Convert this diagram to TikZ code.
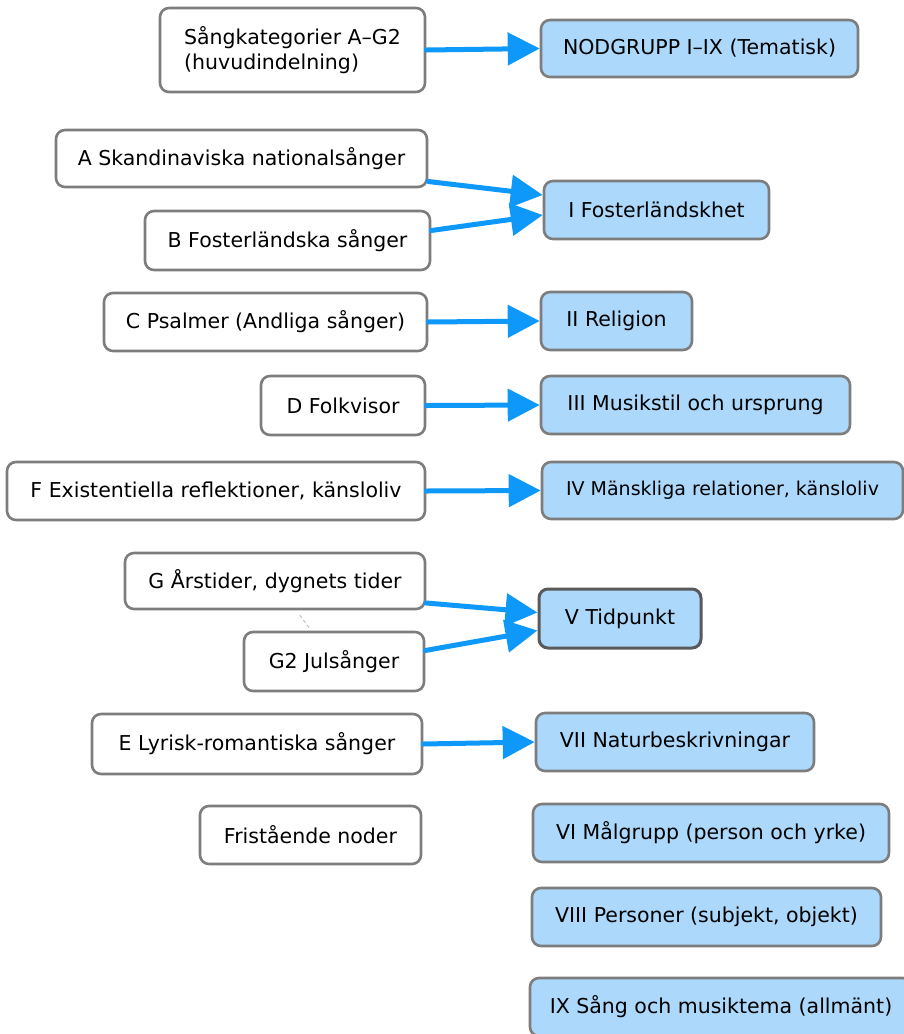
\documentclass[tikz,border=0pt]{standalone}
\usepackage{fontspec}
\setmainfont{DejaVu Sans}
\usepackage{tikz}
\usetikzlibrary{arrows.meta}

\definecolor{linkblue}{RGB}{14,153,250}
\definecolor{themefill}{RGB}{171,216,251}
\definecolor{boxgray}{RGB}{125,125,125}

\tikzset{
  catbox/.style={draw=boxgray,line width=2.6pt,rounded corners=9pt,fill=white,
    inner sep=0pt,font=\fontsize{20.5}{25}\selectfont},
  themebox/.style={catbox,fill=themefill},
  link/.style={->,draw=linkblue,line width=5pt},
  faint/.style={draw=gray!60,line width=0.8pt,dash pattern=on 3pt off 3pt}
}

\begin{document}
\begin{tikzpicture}[line cap=round,line join=round,>={Triangle[length=32pt,width=32pt]},x=1pt,y=-1pt]
\useasboundingbox (0,0) rectangle (904,1034);
\clip (0,0) rectangle (904,1034);
% head row
\node[catbox,minimum width=265pt,minimum height=84pt,align=left] (kat) at (292.5,50) {Sångkategorier A–G2\\(huvudindelning)};
\node[themebox,minimum width=317pt,minimum height=57pt] (nod) at (699.5,48.5) {NODGRUPP I–IX (Tematisk)};
% categories
\node[catbox,minimum width=371pt,minimum height=57pt] (A) at (241.5,158.5) {A Skandinaviska nationalsånger};
\node[catbox,minimum width=285pt,minimum height=59pt] (B) at (287.5,240.5) {B Fosterländska sånger};
\node[catbox,minimum width=323pt,minimum height=58pt] (C) at (265.5,322) {C Psalmer (Andliga sånger)};
\node[catbox,minimum width=164pt,minimum height=59pt] (D) at (343,405.5) {D Folkvisor};
\node[catbox,minimum width=418pt,minimum height=58pt] (F) at (216,491) {F Existentiella reflektioner, känsloliv};
\node[catbox,minimum width=300pt,minimum height=56pt] (G) at (275,581) {G Årstider, dygnets tider};
\node[catbox,minimum width=180pt,minimum height=59pt] (G2) at (334,661.5) {G2 Julsånger};
\node[catbox,minimum width=330pt,minimum height=60pt] (E) at (257,744) {E Lyrisk-romantiska sånger};
\node[catbox,minimum width=221pt,minimum height=58pt] (fri) at (310.5,835) {Fristående noder};
% themes
\node[themebox,minimum width=225pt,minimum height=58pt] (I) at (656.5,210) {I Fosterländskhet};
\node[themebox,minimum width=151pt,minimum height=58pt] (II) at (616.5,321) {II Religion};
\node[themebox,minimum width=309pt,minimum height=58pt] (III) at (695.5,405) {III Musikstil och ursprung};
\node[themebox,minimum width=361pt,minimum height=57pt,font=\fontsize{19}{23}\selectfont] (IV) at (722.5,490.5) {IV Mänskliga relationer, känsloliv};
\node[themebox,draw=black!65,line width=3pt,minimum width=162pt,minimum height=59pt] (V) at (620,618.5) {V Tidpunkt};
\node[themebox,minimum width=278pt,minimum height=58pt] (VII) at (675,742) {VII Naturbeskrivningar};
\node[themebox,minimum width=356pt,minimum height=58pt] (VI) at (711,833) {VI Målgrupp (person och yrke)};
\node[themebox,minimum width=349pt,minimum height=58pt] (VIII) at (706.5,917) {VIII Personer (subjekt, objekt)};
\node[themebox,minimum width=382pt,minimum height=58pt] (IX) at (721,1007) {IX Sång och musiktema (allmänt)};
% links
\draw[link] (kat.east) -- (nod.west);
\draw[link] ([yshift=-23pt]A.east) -- ([yshift=15pt]I.west);
\draw[link] ([yshift=10pt]B.east) -- ([yshift=-5pt]I.west);
\draw[link] (C.east) -- (II.west);
\draw[link] (D.east) -- (III.west);
\draw[link] (F.east) -- (IV.west);
\draw[link] ([yshift=-22pt]G.east) -- ([yshift=6pt]V.west);
\draw[link] ([yshift=11pt]G2.east) -- ([yshift=-12pt]V.west);
\draw[link] (E.east) -- (VII.west);
\draw[faint] ([xshift=25pt,yshift=-5pt]G.south) -- ([xshift=-25pt,yshift=3pt]G2.north);
\end{tikzpicture}
\end{document}
